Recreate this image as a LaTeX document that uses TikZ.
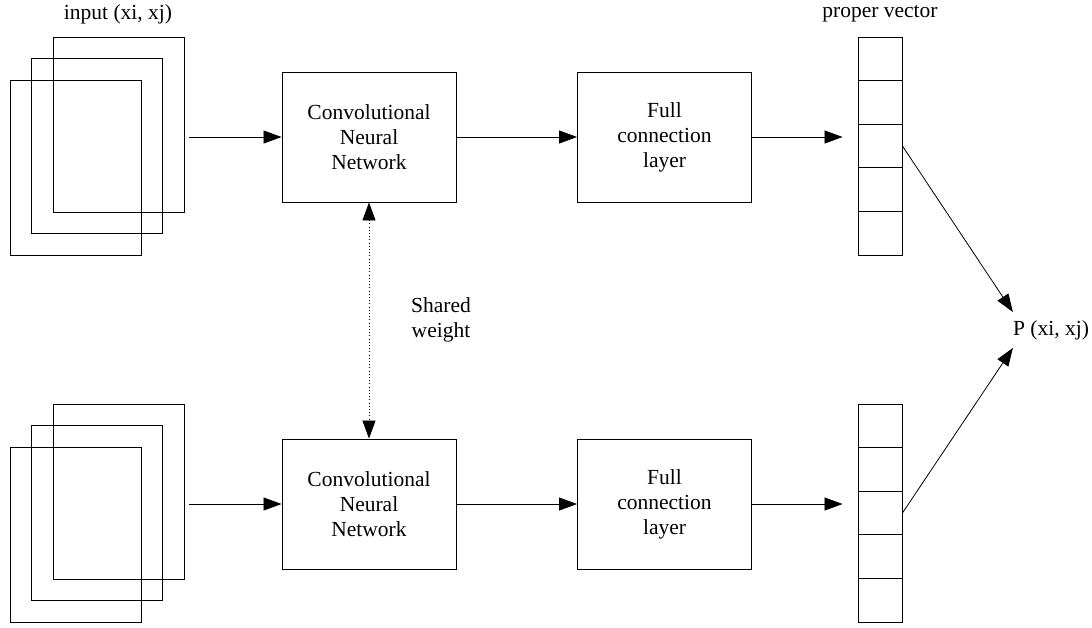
\documentclass[tikz,border=0pt]{standalone}
\usepackage{fontspec}
\setmainfont{Liberation Serif}
\usetikzlibrary{arrows.meta}

\tikzset{
  txt/.style={font=\fontsize{21.5}{25}\selectfont},
  sheet/.style={draw, line width=.9pt, minimum width=131pt, minimum height=175pt, inner sep=0pt},
  block/.style={draw, line width=.9pt, txt, align=center, minimum width=174pt, minimum height=130pt, inner sep=0pt},
  cell/.style={draw, line width=.9pt, minimum width=44pt, minimum height=43.6pt, inner sep=0pt},
  flow/.style={->, line width=.8pt},
}

\begin{document}
\begin{tikzpicture}[x=1pt, y=-1pt, >={Triangle[length=18pt,width=13pt]}]
    \useasboundingbox (0,0) rectangle (1092,627);
    \foreach \row/\dy in {t/0, b/367}{
        \begin{scope}[shift={(0,\dy)}]
            % stacked input sheets
            \foreach \k in {2,1,0}
                \node[sheet] (in\row\k) at (118.5-21.5*\k, 124.5+21.7*\k) {};
            \node[block] (cnn\row) at (369,137) {Convolutional\\Neural\\Network};
            \node[block] (fc\row) at (664.5,137) {Full\\connection\\layer};
            % proper vector
            \foreach \i in {1,...,5}
                \node[cell] (v\row\i) at (880, 37+21.8+43.6*\i-43.6) {};
            \draw[flow, shorten <=5pt] (in\row0.east |- cnn\row.west) -- (cnn\row.west);
            \draw[flow] (cnn\row) -- (fc\row);
            \draw[flow, shorten >=15pt] (fc\row.east) -- (fc\row.east -| v\row3.west);
        \end{scope}
    }
    \node[txt] (inlab) at (118,14) {input (xi, xj)};
    \node[txt] (vlab) at (880,14) {proper vector};
    \node[txt, align=center] (shw) at (441,320) {Shared\\weight};
    \node[txt, inner xsep=0pt, inner ysep=8pt] (P) at (1051,330) {P (xi, xj)};

    \draw[<->, line width=.8pt, dash pattern=on 1pt off 2.2pt] (cnnt.south) -- (cnnb.north);
    \draw[flow] (vt3.east) -- (P.north west);
    \draw[flow] (vb3.east) -- (P.south west);
\end{tikzpicture}
\end{document}
